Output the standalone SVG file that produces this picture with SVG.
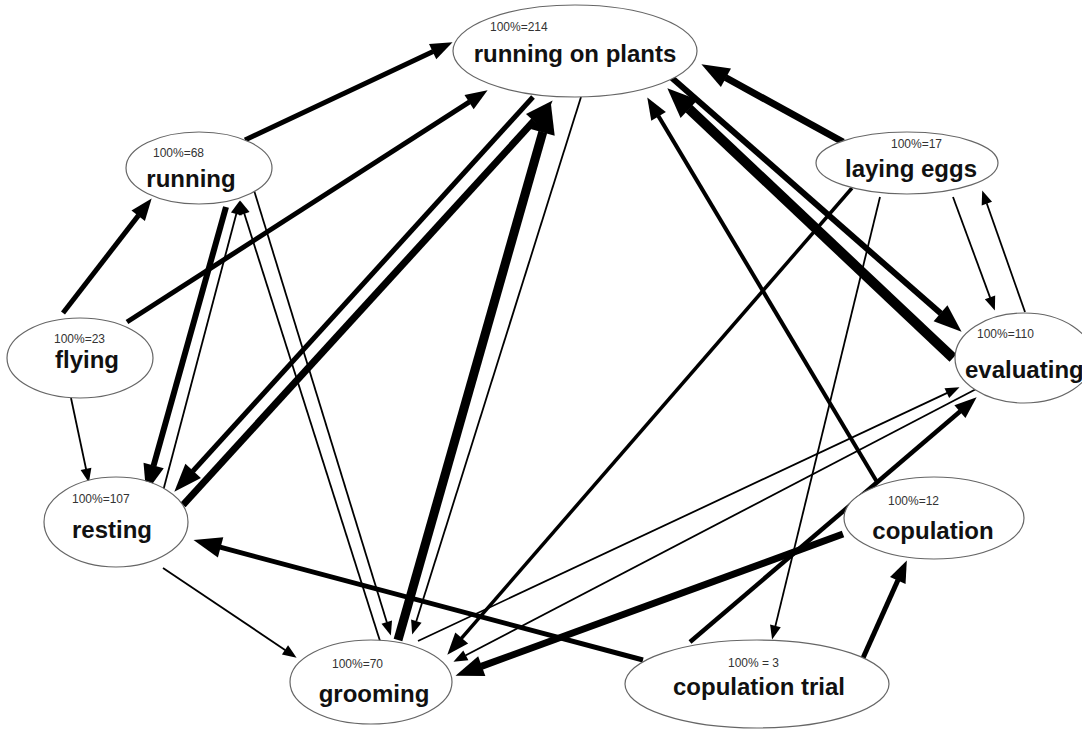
<svg xmlns="http://www.w3.org/2000/svg" width="1082" height="729" viewBox="0 0 1082 729">
<style>
.bg{fill:#ffffff}
.node ellipse{fill:#ffffff;stroke:#666666;stroke-width:1.2}
.lbl{font-family:"Liberation Sans",Arial,sans-serif;font-weight:bold;font-size:24px;fill:#111111}
.pct{font-family:"Liberation Sans",Arial,sans-serif;font-size:12px;fill:#333333}
#edges line{stroke:#000000;fill:none;stroke-linecap:butt}
.t{stroke-width:1.8;marker-end:url(#ahT)}
.m{marker-end:url(#ahM)}
.b{marker-end:url(#ahB)}
.h{marker-end:url(#ahH)}
</style>
<defs>
<marker id="ahT" markerUnits="userSpaceOnUse" markerWidth="14" markerHeight="11" viewBox="0 0 14 11" refX="0.5" refY="5.5" orient="auto" overflow="visible"><path d="M0,0 L14,5.5 L0,11 z" fill="#000"/></marker>
<marker id="ahM" markerUnits="userSpaceOnUse" markerWidth="22" markerHeight="17" viewBox="0 0 22 17" refX="0.5" refY="8.5" orient="auto" overflow="visible"><path d="M0,0 L22,8.5 L0,17 z" fill="#000"/></marker>
<marker id="ahB" markerUnits="userSpaceOnUse" markerWidth="28" markerHeight="21" viewBox="0 0 28 21" refX="0.5" refY="10.5" orient="auto" overflow="visible"><path d="M0,0 L28,10.5 L0,21 z" fill="#000"/></marker>
<marker id="ahH" markerUnits="userSpaceOnUse" markerWidth="30" markerHeight="25" viewBox="0 0 30 25" refX="0.5" refY="12.5" orient="auto" overflow="visible"><path d="M0,0 L30,12.5 L0,25 z" fill="#000"/></marker>
</defs>
<rect class="bg" x="0" y="0" width="1082" height="729"/>
<g id="edges">
<line class="m" x1="245" y1="140" x2="433.1" y2="51.4" stroke-width="5"/>
<line class="m" x1="127" y1="322" x2="469.5" y2="101.9" stroke-width="5"/>
<line class="m" x1="63" y1="313" x2="138.5" y2="215.4" stroke-width="5"/>
<line class="t" x1="71" y1="398" x2="86.1" y2="469.3"/>
<line class="b" x1="226" y1="207" x2="153.5" y2="466" stroke-width="6"/>
<line class="t" x1="162" y1="495" x2="236.4" y2="213.5"/>
<line class="t" x1="380" y1="641" x2="244.2" y2="213.3"/>
<line class="t" x1="253" y1="187" x2="386.9" y2="622.6"/>
<line class="b" x1="533" y1="97" x2="192.8" y2="471.3" stroke-width="5"/>
<line class="b" x1="183" y1="505" x2="534.1" y2="120.7" stroke-width="7"/>
<line class="h" x1="398" y1="640" x2="542.8" y2="131.9" stroke-width="9"/>
<line class="t" x1="581" y1="97" x2="416.2" y2="621.6"/>
<line class="t" x1="418" y1="641" x2="947.3" y2="392.9" stroke-width="2.2"/>
<line class="t" x1="980" y1="387" x2="465.4" y2="655.5" stroke-width="2.2"/>
<line class="m" x1="852" y1="188" x2="461.4" y2="638.4" stroke-width="3.5"/>
<line class="b" x1="843" y1="534" x2="481.3" y2="666.4" stroke-width="7"/>
<line class="b" x1="643" y1="660" x2="220.1" y2="547.2" stroke-width="5"/>
<line class="m" x1="690" y1="642" x2="960.3" y2="411.3" stroke-width="4.5"/>
<line class="m" x1="863" y1="658" x2="898" y2="580.1" stroke-width="5"/>
<line class="t" x1="880" y1="197" x2="775.3" y2="626.4" stroke-width="1.5"/>
<line class="m" x1="877" y1="482" x2="658.3" y2="115.9" stroke-width="4"/>
<line class="b" x1="672" y1="78" x2="940.9" y2="313.6" stroke-width="6"/>
<line class="h" x1="953" y1="358" x2="688.8" y2="108.6" stroke-width="10"/>
<line class="b" x1="843" y1="142" x2="725.5" y2="77.5" stroke-width="7"/>
<line class="t" x1="953" y1="197" x2="990.2" y2="297.9"/>
<line class="t" x1="1025" y1="312" x2="986.7" y2="203.2"/>
<line class="t" x1="163" y1="568" x2="285.4" y2="650.2"/>
</g>
<g id="node-running-on-plants" class="node">
<ellipse cx="575" cy="51" rx="122" ry="46"/>
<text class="pct" x="490" y="31">100%=214</text>
<text class="lbl" x="575" y="62" text-anchor="middle">running on plants</text>
</g>
<g id="node-running" class="node">
<ellipse cx="199" cy="168" rx="73" ry="36"/>
<text class="pct" x="153" y="157">100%=68</text>
<text class="lbl" x="191" y="187" text-anchor="middle">running</text>
</g>
<g id="node-flying" class="node">
<ellipse cx="80" cy="358" rx="73" ry="40"/>
<text class="pct" x="54" y="343">100%=23</text>
<text class="lbl" x="87" y="368" text-anchor="middle">flying</text>
</g>
<g id="node-resting" class="node">
<ellipse cx="116" cy="522" rx="72" ry="45"/>
<text class="pct" x="72" y="503">100%=107</text>
<text class="lbl" x="112" y="538" text-anchor="middle">resting</text>
</g>
<g id="node-grooming" class="node">
<ellipse cx="371" cy="682" rx="81" ry="42"/>
<text class="pct" x="332" y="668">100%=70</text>
<text class="lbl" x="374" y="702" text-anchor="middle">grooming</text>
</g>
<g id="node-copulation-trial" class="node">
<ellipse cx="757" cy="684" rx="132" ry="44"/>
<text class="pct" x="728" y="667">100% = 3</text>
<text class="lbl" x="759" y="695" text-anchor="middle">copulation trial</text>
</g>
<g id="node-copulation" class="node">
<ellipse cx="934" cy="518" rx="90" ry="41"/>
<text class="pct" x="888" y="505">100%=12</text>
<text class="lbl" x="933" y="539" text-anchor="middle">copulation</text>
</g>
<g id="node-evaluating" class="node">
<ellipse cx="1024" cy="358" rx="69" ry="45"/>
<text class="pct" x="977" y="338">100%=110</text>
<text class="lbl" x="965" y="378">evaluating</text>
</g>
<g id="node-laying-eggs" class="node">
<ellipse cx="907" cy="163" rx="91" ry="31"/>
<text class="pct" x="891" y="148">100%=17</text>
<text class="lbl" x="911" y="177" text-anchor="middle">laying eggs</text>
</g>
</svg>
